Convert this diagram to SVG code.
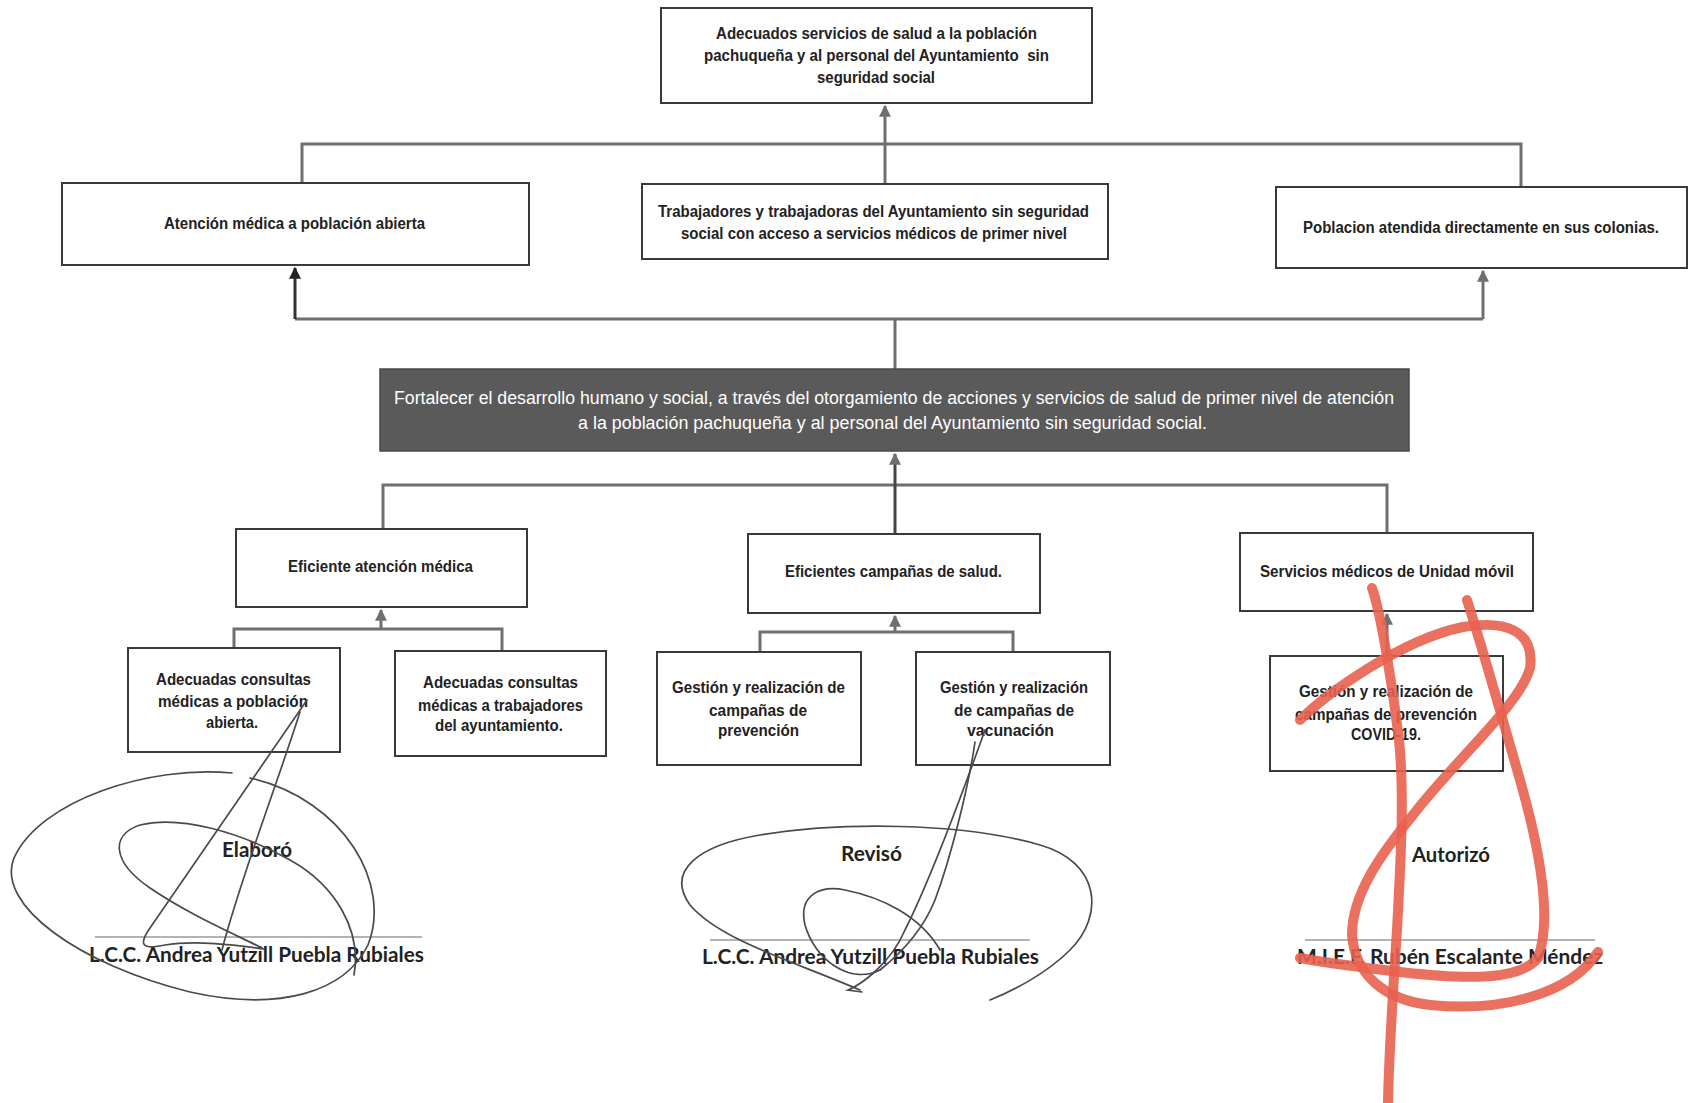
<svg xmlns="http://www.w3.org/2000/svg" width="1688" height="1103" viewBox="0 0 1688 1103">
<style>
.box{fill:#fff;stroke:#3a3a3a;stroke-width:2}
.dark{fill:#5a5a5a;stroke:#4a4a4a;stroke-width:1.5}
.t{font-family:"Liberation Sans",Arial,sans-serif;font-size:16px;font-weight:bold;fill:#222}
.tw{font-family:"Liberation Sans",Arial,sans-serif;font-size:18px;fill:#fff}
.s{font-family:Lato,"Open Sans",sans-serif;font-size:20px;font-weight:bold;fill:#222}
.c{fill:none;stroke:#6f6f6f;stroke-width:3}
.sl{stroke:#9a9a9a;stroke-width:1.5}
.sig{fill:none;stroke:#4a4a4a;stroke-width:1.7;stroke-linecap:round}
.red{fill:none;stroke:#e8604f;stroke-width:10;stroke-linecap:round;opacity:0.9}
</style>
<defs>
<marker id="ah" viewBox="0 0 10 10" refX="9" refY="5" markerWidth="4" markerHeight="4" orient="auto">
<path d="M0,0 L10,5 L0,10 z" fill="#6f6f6f"/>
</marker>
<marker id="ahd" viewBox="0 0 10 10" refX="9" refY="5" markerWidth="4" markerHeight="4" orient="auto">
<path d="M0,0 L10,5 L0,10 z" fill="#222"/>
</marker>
</defs>
<rect width="1688" height="1103" fill="#fff"/>

<g id="connectors">
<path class="c" d="M302,183 V144 H1521 V187"/>
<path class="c" d="M885,184 V106" marker-end="url(#ah)"/>
<path class="c" d="M895,369 V319"/>
<path class="c" d="M295,319 H1483"/>
<path class="c" d="M295,319 V268" style="stroke:#333" marker-end="url(#ahd)"/>
<path class="c" d="M1483,319 V271" marker-end="url(#ah)"/>
<path class="c" d="M383,529 V485 H1387 V533"/>
<path class="c" d="M895,533 V454" style="stroke:#444" marker-end="url(#ah)"/>
<path class="c" d="M234,648 V629 H502 V651"/>
<path class="c" d="M381,629 V610" marker-end="url(#ah)"/>
<path class="c" d="M760,652 V632 H1013 V652"/>
<path class="c" d="M895,632 V616" marker-end="url(#ah)"/>
<path class="c" d="M1387,656 V614" marker-end="url(#ah)"/>
</g>

<g id="n-fin">
<rect class="box" x="661" y="8" width="431" height="95"/>
<text class="t" x="716" y="39" textLength="321" lengthAdjust="spacingAndGlyphs">Adecuados servicios de salud a la población</text>
<text class="t" x="704" y="61" textLength="345" lengthAdjust="spacingAndGlyphs" style="white-space:pre">pachuqueña y al personal del Ayuntamiento  sin</text>
<text class="t" x="817" y="83" textLength="118" lengthAdjust="spacingAndGlyphs">seguridad social</text>
</g>

<g id="n-atencion">
<rect class="box" x="62" y="183" width="467" height="82"/>
<text class="t" x="164" y="229" textLength="261" lengthAdjust="spacingAndGlyphs">Atención médica a población abierta</text>
</g>

<g id="n-trabajadores">
<rect class="box" x="642" y="184" width="466" height="75"/>
<text class="t" x="658" y="217" textLength="431" lengthAdjust="spacingAndGlyphs">Trabajadores y trabajadoras del Ayuntamiento sin seguridad</text>
<text class="t" x="681" y="239" textLength="386" lengthAdjust="spacingAndGlyphs">social con acceso a servicios médicos de primer nivel</text>
</g>

<g id="n-poblacion">
<rect class="box" x="1276" y="187" width="411" height="81"/>
<text class="t" x="1303" y="233" textLength="356" lengthAdjust="spacingAndGlyphs">Poblacion atendida directamente en sus colonias.</text>
</g>

<g id="n-proposito">
<rect class="dark" x="380" y="369" width="1029" height="82"/>
<text class="tw" x="394" y="404" textLength="1000" lengthAdjust="spacingAndGlyphs">Fortalecer el desarrollo humano y social, a través del otorgamiento de acciones y servicios de salud de primer nivel de atención</text>
<text class="tw" x="578" y="429" textLength="629" lengthAdjust="spacingAndGlyphs">a la población pachuqueña y al personal del Ayuntamiento sin seguridad social.</text>
</g>

<g id="n-eficiente">
<rect class="box" x="236" y="529" width="291" height="78"/>
<text class="t" x="288" y="572" textLength="185" lengthAdjust="spacingAndGlyphs">Eficiente atención médica</text>
</g>

<g id="n-campanas">
<rect class="box" x="748" y="534" width="292" height="79"/>
<text class="t" x="785" y="577" textLength="217" lengthAdjust="spacingAndGlyphs">Eficientes campañas de salud.</text>
</g>

<g id="n-movil">
<rect class="box" x="1240" y="533" width="293" height="78"/>
<text class="t" x="1260" y="577" textLength="254" lengthAdjust="spacingAndGlyphs">Servicios médicos de Unidad móvil</text>
</g>

<g id="n-consultas-pob">
<rect class="box" x="128" y="648" width="212" height="104"/>
<text class="t" x="156" y="685" textLength="155" lengthAdjust="spacingAndGlyphs">Adecuadas consultas</text>
<text class="t" x="158" y="707" textLength="150" lengthAdjust="spacingAndGlyphs">médicas a población</text>
<text class="t" x="206" y="728" textLength="52" lengthAdjust="spacingAndGlyphs">abierta.</text>
</g>

<g id="n-consultas-trab">
<rect class="box" x="395" y="651" width="211" height="105"/>
<text class="t" x="423" y="688" textLength="155" lengthAdjust="spacingAndGlyphs">Adecuadas consultas</text>
<text class="t" x="418" y="711" textLength="165" lengthAdjust="spacingAndGlyphs">médicas a trabajadores</text>
<text class="t" x="435" y="731" textLength="128" lengthAdjust="spacingAndGlyphs">del ayuntamiento.</text>
</g>

<g id="n-prevencion">
<rect class="box" x="657" y="652" width="204" height="113"/>
<text class="t" x="672" y="693" textLength="173" lengthAdjust="spacingAndGlyphs">Gestión y realización de</text>
<text class="t" x="709" y="716" textLength="98" lengthAdjust="spacingAndGlyphs">campañas de</text>
<text class="t" x="718" y="736" textLength="81" lengthAdjust="spacingAndGlyphs">prevención</text>
</g>

<g id="n-vacunacion">
<rect class="box" x="916" y="652" width="194" height="113"/>
<text class="t" x="940" y="693" textLength="148" lengthAdjust="spacingAndGlyphs">Gestión y realización</text>
<text class="t" x="954" y="716" textLength="120" lengthAdjust="spacingAndGlyphs">de campañas de</text>
<text class="t" x="967" y="736" textLength="87" lengthAdjust="spacingAndGlyphs">vacunación</text>
</g>

<g id="n-covid">
<rect class="box" x="1270" y="656" width="233" height="115"/>
<text class="t" x="1299" y="697" textLength="174" lengthAdjust="spacingAndGlyphs">Gestión y realización de</text>
<text class="t" x="1295" y="720" textLength="182" lengthAdjust="spacingAndGlyphs">campañas de prevención</text>
<text class="t" x="1351" y="740" textLength="70" lengthAdjust="spacingAndGlyphs">COVID-19.</text>
</g>

<g id="firmas">
<line class="sl" x1="95" y1="937" x2="422" y2="937"/>
<text class="s" x="222" y="857" textLength="70" lengthAdjust="spacingAndGlyphs">Elaboró</text>
<text class="s" x="89" y="962" textLength="335" lengthAdjust="spacingAndGlyphs">L.C.C. Andrea Yutzill Puebla Rubiales</text>
<line class="sl" x1="710" y1="940" x2="1030" y2="940"/>
<text class="s" x="841" y="861" textLength="61" lengthAdjust="spacingAndGlyphs">Revisó</text>
<text class="s" x="702" y="964" textLength="337" lengthAdjust="spacingAndGlyphs">L.C.C. Andrea Yutzill Puebla Rubiales</text>
<line class="sl" x1="1305" y1="940" x2="1595" y2="940"/>
<text class="s" x="1412" y="862" textLength="78" lengthAdjust="spacingAndGlyphs">Autorizó</text>
<text class="s" x="1297" y="964" textLength="306" lengthAdjust="spacingAndGlyphs">M.I.E.F. Rubén Escalante Méndez</text>
</g>

<g id="rubricas">
<path class="sig" d="M232,773 C150,765 40,800 14,858 C-5,905 80,965 190,992 C280,1012 345,992 368,945 C392,885 345,800 250,778"/>
<path class="sig" d="M354,975 C362,930 335,885 290,860 C240,832 180,815 140,825 C110,835 112,862 150,888 C190,915 230,932 262,948"/>
<path class="sig" d="M307,700 L150,928 C138,945 142,950 165,945 C195,940 235,945 264,949"/>
<path class="sig" d="M300,712 C275,790 240,880 222,950"/>
<path class="sig" d="M985,730 C960,800 930,880 905,930 C890,965 860,985 848,990 L862,992"/>
<path class="sig" d="M975,742 C968,790 950,860 935,900 C925,925 905,950 880,970"/>
<path class="sig" d="M880,970 C850,985 815,960 805,925 C798,895 820,885 845,890 C880,897 920,915 940,950"/>
<path class="sig" d="M860,990 C790,960 720,940 690,905 C665,870 700,845 760,835 C840,822 960,822 1040,845 C1100,862 1105,915 1070,950 C1045,975 1010,992 990,1000"/>
<path class="red" d="M1372,588 C1380,610 1392,680 1399,740 C1405,800 1400,870 1397,930 C1393,990 1389,1050 1388,1103"/>
<path class="red" d="M1300,720 C1325,695 1400,640 1463,627 C1505,620 1535,630 1530,668 C1520,705 1455,760 1413,815 C1380,855 1352,895 1352,935 C1355,975 1385,1000 1430,1005 C1500,1012 1570,995 1598,952"/>
<path class="red" d="M1467,600 C1480,640 1500,710 1520,780 C1540,850 1552,920 1538,958 C1520,980 1470,980 1400,972 C1350,966 1320,962 1300,958"/>
</g>
</svg>
